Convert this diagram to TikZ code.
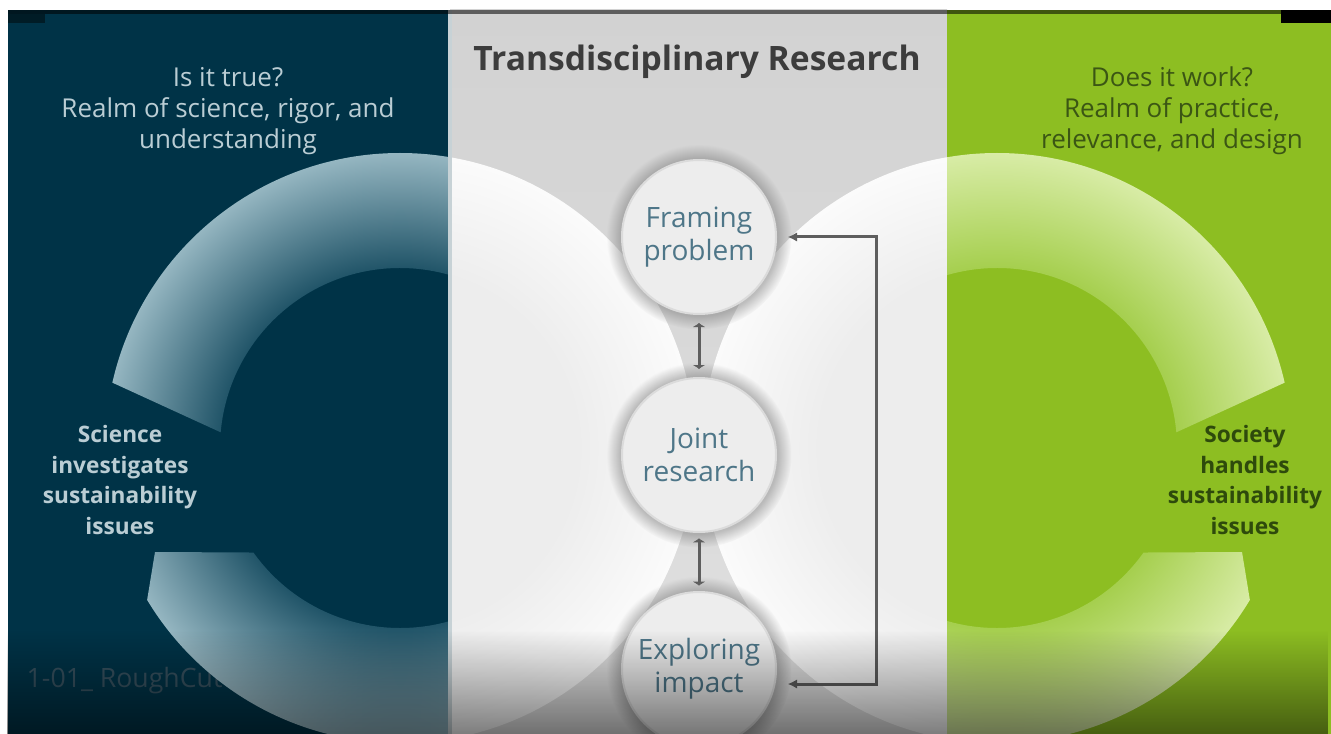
\documentclass[tikz,border=0pt]{standalone}
\usepackage{fontspec}
\setmainfont{Open Sans}
\usetikzlibrary{calc,arrows.meta,shadows,fadings}
\definecolor{lpanel}{HTML}{003347}
\definecolor{rpanel}{HTML}{8DBE22}
\definecolor{ltext}{HTML}{BACDD4}
\definecolor{rtext}{HTML}{3B5614}
\definecolor{rtextd}{HTML}{2E4A0C}
\definecolor{ctext}{HTML}{4E7688}
\definecolor{ttext}{HTML}{3C3C3C}
\definecolor{wmark}{HTML}{37515F}
\definecolor{conn}{HTML}{5E5E5E}
\definecolor{ringLin}{HTML}{1E5266}
\definecolor{ringLout}{HTML}{95B6C1}
\definecolor{ringRin}{HTML}{A4CE4C}
\definecolor{ringRout}{HTML}{D8ECA6}
\definecolor{ringMin}{HTML}{EDEDED}
\definecolor{ringMout}{HTML}{FBFBFB}
\definecolor{midtop}{HTML}{D2D2D2}
\definecolor{midbot}{HTML}{E0E0E0}
\definecolor{innerdisk}{HTML}{E8E8E8}
\definecolor{circfill}{HTML}{EDEDED}
\pgfdeclareradialshading{ringLshade}{\pgfpoint{0bp}{0bp}}{color(0bp)=(ringLin); color(15bp)=(ringLin); color(25bp)=(ringLout); color(50bp)=(ringLout)}
\pgfdeclareradialshading{ringRshade}{\pgfpoint{0bp}{0bp}}{color(0bp)=(ringRin); color(15bp)=(ringRin); color(25bp)=(ringRout); color(50bp)=(ringRout)}
\pgfdeclareradialshading{ringMshade}{\pgfpoint{0bp}{0bp}}{color(0bp)=(ringMin); color(15bp)=(ringMin); color(25bp)=(ringMout); color(50bp)=(ringMout)}
\tikzfading[name=fadebottom, top color=transparent!100, bottom color=transparent!50]
\tikzset{
  stage/.style={circle, minimum size=115.5pt, inner sep=0pt, fill=circfill,
    draw=white!86!black, line width=1.5pt, text=ctext,
    font=\fontsize{21}{24.75}\selectfont, align=center,
    circular drop shadow={shadow xshift=0pt, shadow yshift=0pt, shadow scale=1.2, opacity=0.5}},
  link/.style={draw=conn, line width=2.25pt, {Latex[length=3pt,width=10pt]}-{Latex[length=3pt,width=10pt]}},
  fb/.style={draw=conn, line width=2.25pt, {Latex[length=7pt,width=7pt]}-{Latex[length=7pt,width=7pt]}, shorten <=8pt, shorten >=8pt},
  toptext/.style={font=\fontsize{19.5}{23.25}\selectfont, align=center},
  sidetext/.style={font=\bfseries\fontsize{17}{23}\selectfont, align=center}
}
\begin{document}
\begin{tikzpicture}[x=0.75pt,y=-0.75pt]
\useasboundingbox (0,0) rectangle (1331,734);
\fill[white] (0,0) rectangle (1331,734);
% ---------- left panel
\fill[lpanel] (8,10) rectangle (450,734);
\node[anchor=west, text=wmark, font=\fontsize{20}{24}\selectfont] (wm) at (22,681) {1-01\_ RoughCut};
\begin{scope}
  \clip (8,10) rectangle (450,734);
  \clip (400,448) ++(192.8:295) arc[start angle=192.8,end angle=509,radius=295]
        -- (155,552) -- ($(400,448)+(504.5:180)$)
        arc[start angle=504.5,end angle=185,radius=180] -- cycle;
  \shade[shading=ringLshade] (400,448) circle[radius=295];
\end{scope}
% ---------- middle panel
\shade[top color=midtop, bottom color=midbot] (450,10) rectangle (947,734);
\begin{scope}
  \clip (450,10) rectangle (947,734);
  \fill[innerdisk] (400,448) circle[radius=180];
  \fill[innerdisk] (997,448) circle[radius=180];
  \begin{scope}
    \clip (400,448) circle[radius=295] (400,448) circle[radius=180];
    \shade[shading=ringMshade] (400,448) circle[radius=295];
  \end{scope}
  \begin{scope}
    \clip (997,448) circle[radius=295] (997,448) circle[radius=180];
    \shade[shading=ringMshade] (997,448) circle[radius=295];
  \end{scope}
\end{scope}
\fill[white!78!lpanel] (448,10) rectangle (452,734);
% ---------- right panel
\fill[rpanel] (947,10) rectangle (1331,734);
\begin{scope}
  \clip (947,10) rectangle (1331,734);
  \clip (997,448) ++(347.2:295) arc[start angle=347.2,end angle=31,radius=295]
        -- (1242,552) -- ($(997,448)+(35.5:180)$)
        arc[start angle=35.5,end angle=355,radius=180] -- cycle;
  \shade[shading=ringRshade] (997,448) circle[radius=295];
\end{scope}
% ---------- stages
\node[stage] (fr) at (699,237) {Framing\\problem};
\node[stage] (jr) at (699,455) {Joint\\research};
\node[stage] (ex) at (699,669) {Exploring\\impact};
\draw[link, shorten <=6pt, shorten >=6pt] (fr) -- (jr);
\draw[link, shorten <=4pt, shorten >=4pt] (jr) -- (ex);
\draw[fb] (fr.east) -- ++(99,0) |- ($(ex.east)+(0,15)$);
% ---------- bottom darkening and top strip
\fill[black, path fading=fadebottom] (8,630) rectangle (1331,734);
\fill[black, opacity=0.55] (8,10) rectangle (1331,14);
\fill[black, opacity=0.45] (8,14) rectangle (45,23);
\fill[black] (1281,10) rectangle (1331,23);
% ---------- texts
\node[font=\bfseries\fontsize{25.2}{28}\selectfont, text=ttext] (title) at (697,62) {Transdisciplinary Research};
\node[toptext, text=ltext] (ql) at (228,111) {Is it true?\\Realm of science, rigor, and\\understanding};
\node[toptext, text=rtext] (qr) at (1172,111) {Does it work?\\Realm of practice,\\relevance, and design};
\node[sidetext, text=ltext] (sl) at (120,480) {Science\\investigates\\sustainability\\issues};
\node[sidetext, text=rtextd] (sr) at (1245,480) {Society\\handles\\sustainability\\issues};
\end{tikzpicture}
\end{document}
